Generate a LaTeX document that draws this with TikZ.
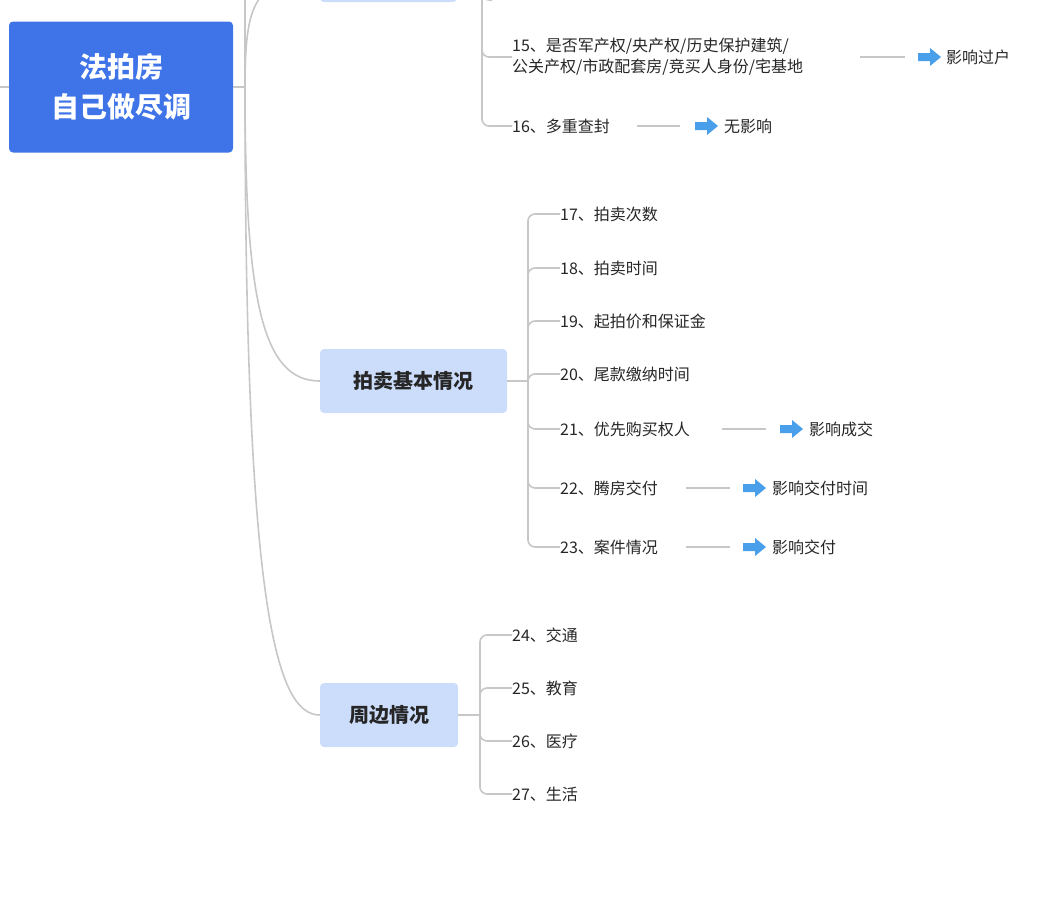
\documentclass[tikz,border=0pt]{standalone}
\usepackage{fontspec}
\setmainfont{Noto Sans CJK SC}
\begin{document}
\begin{tikzpicture}[x=1pt,y=-1pt,
  ln/.style={draw=black!22,line width=1.6pt,rounded corners=7pt},
  item/.style={anchor=west,inner sep=0pt,font=\fontsize{16}{21}\selectfont,text=black!85},
  sub/.style={fill=blue!18!cyan!8!white,fill=blue!20!white!80!cyan,rounded corners=4pt,font=\fontsize{20}{24}\selectfont\bfseries,text=black!85,minimum height=64pt,inner sep=0pt},
  bar/.style={draw=black!22,line width=1.6pt},
  note/.style={anchor=west,inner sep=0pt,font=\fontsize{16}{21}\selectfont,text=black!85}]
\definecolor{rootc}{HTML}{3F74E8}
\definecolor{subc}{HTML}{CCDDFB}
\definecolor{arrc}{HTML}{4A9FEA}
\useasboundingbox (0,0) rectangle (1052,900);
\newcommand{\barrow}[2]{\fill[arrc] (#1-11,#2-4) -- (#1+1,#2-4) -- (#1+1,#2-9) -- (#1+12,#2) -- (#1+1,#2+9) -- (#1+1,#2+4) -- (#1-11,#2+4) -- cycle;}
% root
\node[fill=rootc,rounded corners=4pt,minimum width=224pt,minimum height=131pt,inner sep=0pt,text=white,align=center,font=\fontsize{28}{40}\selectfont\bfseries] (root) at (121,87) {法拍房\\自己做尽调};
\coordinate (lin) at (0,87);
\draw[bar] (lin) -- (root.west);
\coordinate (r) at (245,87);
\draw[bar] (root.east) -- (r);
% top box fragment
\fill[subc,rounded corners=4pt] (320,-40) rectangle (457,2);
\draw[bar] (r) .. controls (245,30) and (250,10) .. (262,-5);
\draw[bar] (r) -- (245,-5);
% sub boxes
\node[sub,fill=subc,minimum width=187pt] (auc) at (413.5,381) {拍卖基本情况};
\node[sub,fill=subc,minimum width=138pt] (env) at (389,715) {周边情况};
\draw[bar] (r) .. controls (245,300) and (262,381) .. (auc.west);
\draw[bar] (r) .. controls (245,600) and (275,715) .. (env.west);
% top items
\node[item,align=left] (i15) at (512,57) {15、是否军产权/央产权/历史保护建筑/\\公关产权/市政配套房/竞买人身份/宅基地};
\node[item] (i16) at (512,126) {16、多重查封};
\draw[ln] (482,-5) -- (482,126) -- (i16.west);
\draw[ln] (482,50) -- (482,57) -- (i15.west);
\draw[ln] (482,-5) -- (482,0) -- (492,0);
\coordinate (a15) at (860,57); \coordinate (b15) at (905,57);
\draw[bar] (a15) -- (b15); \barrow{929}{57}
\node[note] (n15) at (946,57) {影响过户};
\coordinate (a16) at (637,126); \coordinate (b16) at (680,126);
\draw[bar] (a16) -- (b16); \barrow{706}{126}
\node[note] (n16) at (724,126) {无影响};
% auction items
\coordinate (ab) at (528,381);
\draw[bar] (auc.east) -- (ab);
\foreach \n/\y/\t in {17/214/拍卖次数,18/268/拍卖时间,19/321/起拍价和保证金,20/374/尾款缴纳时间,21/429/优先购买权人,22/488/腾房交付,23/547/案件情况}{
  \node[item] (i\n) at (560,\y) {\n、\t};
  \draw[ln] (ab) -- (528,\y) -- (i\n.west);
}
\coordinate (a21) at (722,429); \coordinate (b21) at (766,429);
\draw[bar] (a21) -- (b21); \barrow{791}{429}
\node[note] (n21) at (809,429) {影响成交};
\coordinate (a22) at (686,488); \coordinate (b22) at (730,488);
\draw[bar] (a22) -- (b22); \barrow{754}{488}
\node[note] (n22) at (772,488) {影响交付时间};
\coordinate (a23) at (686,547); \coordinate (b23) at (730,547);
\draw[bar] (a23) -- (b23); \barrow{754}{547}
\node[note] (n23) at (772,547) {影响交付};
% env items
\coordinate (eb) at (480,715);
\draw[bar] (env.east) -- (eb);
\foreach \n/\y/\t in {24/635/交通,25/688/教育,26/741/医疗,27/794/生活}{
  \node[item] (i\n) at (512,\y) {\n、\t};
  \draw[ln] (eb) -- (480,\y) -- (i\n.west);
}
\end{tikzpicture}
\end{document}
